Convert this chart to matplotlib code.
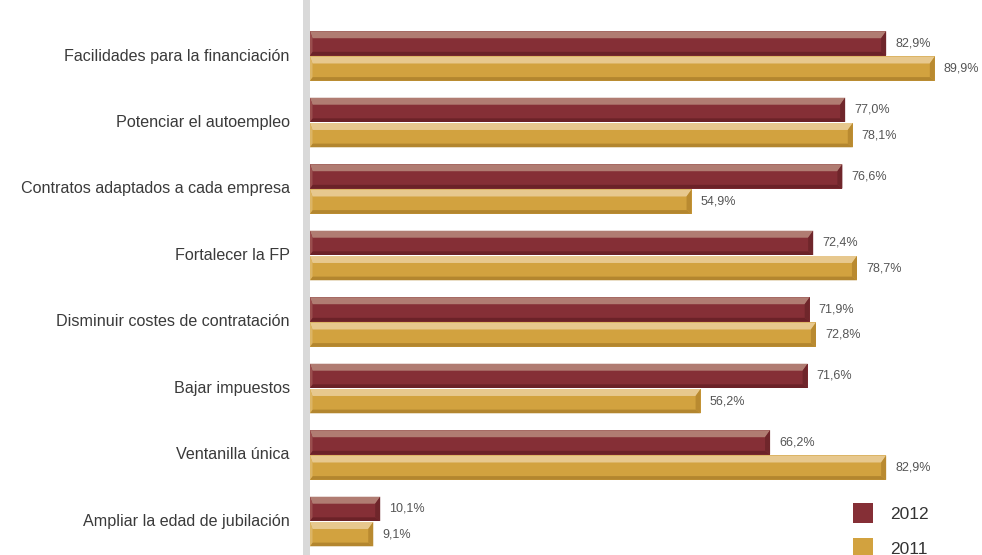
import numpy as np
import matplotlib.pyplot as plt
from matplotlib.patches import Polygon, Patch, Rectangle

plt.rcParams['font.family'] = ['Liberation Sans', 'DejaVu Sans']

categories = ['Facilidades para la financiación', 'Potenciar el autoempleo',
              'Contratos adaptados a cada empresa', 'Fortalecer la FP',
              'Disminuir costes de contratación', 'Bajar impuestos',
              'Ventanilla única', 'Ampliar la edad de jubilación']
vals_2012 = [82.9, 77.0, 76.6, 72.4, 71.9, 71.6, 66.2, 10.1]
vals_2011 = [89.9, 78.1, 54.9, 78.7, 72.8, 56.2, 82.9, 9.1]

# (main, top, bottom, left, right) colours for the bevelled bars
col_2012 = ('#852f36', '#b07c72', '#6b2228', '#9a4e4e', '#6f262b')
col_2011 = ('#d2a23f', '#e7c88e', '#b3862f', '#dcb565', '#b98a30')

fig = plt.figure(figsize=(9.82, 5.55), dpi=100)
W, H = 982, 555
ax = fig.add_axes([310 / W, 0, 1 - 310 / W, 1])
ax.set_xlim(0, (W - 310) / 6.95)
ax.set_ylim((H - 56) / 66.5, -56 / 66.5)
ax.axis('off')

# grey vertical axis bar
fig.add_artist(Rectangle((303 / W, 0), 7 / W, 1, transform=fig.transFigure,
                         color='#d9d9d9', lw=0))

y = np.arange(len(categories))
h = 0.365
off = 0.19
dx = 0.72     # bevel width in x units
dt = 0.105    # top band
db = 0.055    # bottom band


def bevel_bars(ys, vals, cols):
    ax.barh(ys, vals, height=h, color=cols[0], lw=0)
    for yc, v in zip(ys, vals):
        top, bot = yc - h / 2, yc + h / 2
        ax.add_patch(Polygon([(0, top), (v, top), (v - dx, top + dt), (dx * 0.5, top + dt)],
                             closed=True, color=cols[1], lw=0))
        ax.add_patch(Polygon([(0, bot), (v, bot), (v - dx, bot - db), (dx * 0.5, bot - db)],
                             closed=True, color=cols[2], lw=0))
        ax.add_patch(Polygon([(0, top), (dx * 0.5, top + dt), (dx * 0.5, bot - db), (0, bot)],
                             closed=True, color=cols[3], lw=0))
        ax.add_patch(Polygon([(v, top), (v - dx, top + dt), (v - dx, bot - db), (v, bot)],
                             closed=True, color=cols[4], lw=0))
        ax.text(v + 1.3, yc, f'{v:.1f}%'.replace('.', ','), va='center', ha='left',
                fontsize=9, color='#555555')


bevel_bars(y - off, vals_2012, col_2012)
bevel_bars(y + off, vals_2011, col_2011)

for yc, c in zip(y, categories):
    ax.text(-2.9, yc, c, ha='right', va='center', fontsize=11.6, color='#3a3a3a')

handles = [Patch(color=col_2012[0], lw=0), Patch(color=col_2011[0], lw=0)]
fig.legend(handles, ['2012', '2011'], loc='upper left',
           bbox_to_anchor=(853 / W, 1 - 503 / H), frameon=False, fontsize=12.5,
           handlelength=1.15, handleheight=1.4, handletextpad=1.0,
           labelspacing=0.85, borderpad=0, borderaxespad=0, labelcolor='#333333')

fig.savefig('out.png', dpi=100)
